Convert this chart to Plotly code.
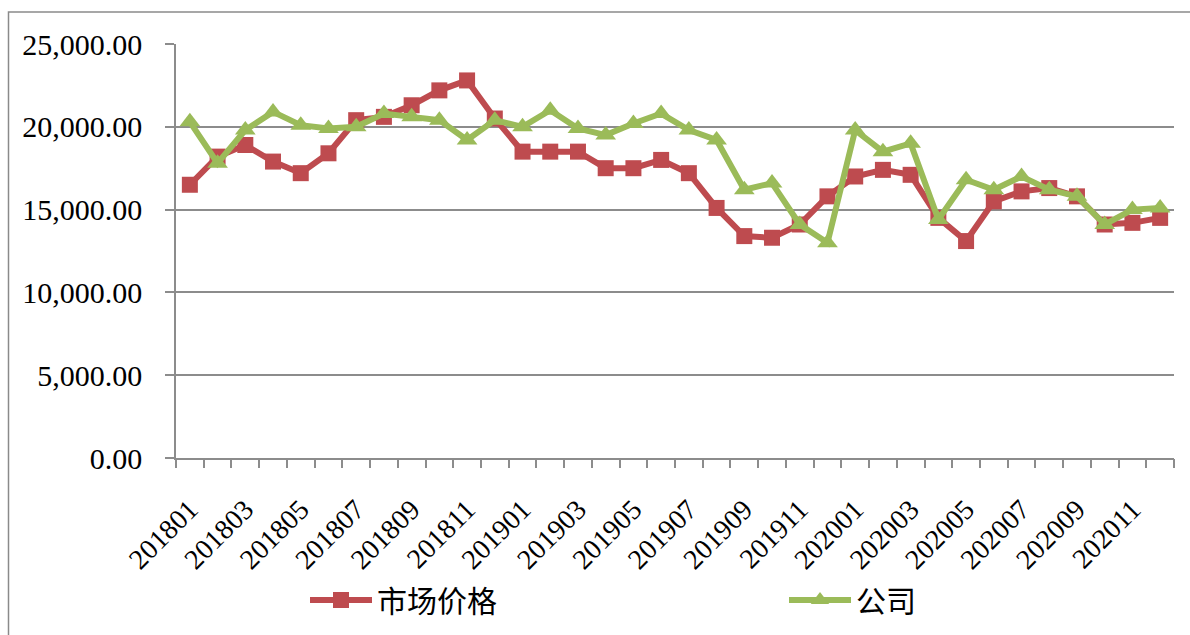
import plotly.graph_objects as go

# Monthly periods 2018-01 .. 2020-12
categories = [f"{y}{m:02d}" for y in (2018, 2019, 2020) for m in range(1, 13)]

market_price = [
    16500, 18200, 18900, 17900, 17200, 18400, 20400, 20600, 21300, 22200, 22800, 20500,
    18500, 18500, 18500, 17500, 17500, 18000, 17200, 15100, 13400, 13300, 14100, 15800,
    17000, 17400, 17100, 14500, 13100, 15500, 16100, 16300, 15800, 14100, 14200, 14500,
]
company_price = [
    20300, 17800, 19800, 20900, 20100, 19900, 20000, 20800, 20600, 20400, 19200, 20400,
    20000, 21000, 19900, 19500, 20200, 20800, 19800, 19200, 16200, 16600, 14100, 13000,
    19800, 18500, 19000, 14400, 16800, 16200, 17000, 16200, 15800, 14100, 15000, 15100,
]

series_names = ["市场价格", "公司"]
label_cats = categories[::2]

RED = "#BE4B4F"
GREEN = "#9BBB59"
GRID = "#8C8C8C"
SERIF = "Liberation Serif, Times New Roman, serif"
CJK = "Noto Sans CJK SC, sans-serif"

fig = go.Figure()
fig.add_trace(go.Scatter(
    x=categories, y=market_price, name=series_names[0], mode="lines+markers",
    line=dict(color=RED, width=6),
    marker=dict(symbol="square", size=16, color=RED),
))
fig.add_trace(go.Scatter(
    x=categories, y=company_price, name=series_names[1], mode="lines+markers",
    line=dict(color=GREEN, width=6),
    marker=dict(symbol="triangle-up", size=18, color=GREEN),
))
# carrier for the boundary tick-mark axis
fig.add_trace(go.Scatter(x=[0], y=[None], xaxis="x2", showlegend=False,
                         hoverinfo="skip", mode="markers"))

n = len(categories)
W, H = 1190, 635
L, R, T, B = 176, 16, 44, 177
pw, ph = W - L - R, H - T - B

fig.update_layout(
    width=W, height=H,
    margin=dict(l=L, r=R, t=T, b=B, autoexpand=False),
    paper_bgcolor="white", plot_bgcolor="white",
    xaxis=dict(
        type="category", range=[-0.5, n - 0.5],
        tickmode="array", tickvals=label_cats, ticktext=label_cats,
        tickangle=-45, ticks="", showgrid=False,
        showline=True, linecolor=GRID, linewidth=1.5,
        tickfont=dict(family=SERIF, size=28, color="black"),
        ticklabelstandoff=22, automargin=False,
    ),
    xaxis2=dict(
        overlaying="x", anchor="y", side="bottom", range=[-0.5, n - 0.5],
        tickmode="array", tickvals=[i - 0.5 for i in range(n + 1)],
        showticklabels=False, ticks="outside", ticklen=9, tickwidth=1.5,
        tickcolor=GRID, showgrid=False, showline=False, zeroline=False,
    ),
    yaxis=dict(
        range=[0, 25000], dtick=5000, tickformat=",.2f",
        showgrid=True, gridcolor=GRID, gridwidth=1.5,
        showline=True, linecolor=GRID, linewidth=1.5,
        ticks="outside", ticklen=9, tickwidth=1.5, tickcolor=GRID,
        zeroline=False,
        tickfont=dict(family=SERIF, size=30, color="black"),
        ticklabelstandoff=17, automargin=False,
    ),
    legend=dict(
        orientation="h", x=(305 - L) / pw, xanchor="left",
        y=(T + ph - 600) / ph, yanchor="middle",
        font=dict(family=CJK, size=30, color="black"),
        itemwidth=62,
        entrywidth=402, entrywidthmode="pixels",
        bgcolor="rgba(0,0,0,0)",
    ),
    showlegend=True,
    shapes=[dict(
        type="rect", xref="paper", yref="paper",
        x0=(8.5 - L) / pw, x1=(W + 10 - L) / pw,
        y0=(T + ph - (H + 10)) / ph, y1=(T + ph - 12) / ph,
        line=dict(color="#8A8A8A", width=1.5), fillcolor="rgba(0,0,0,0)",
        layer="below",
    )],
)

fig.write_html("out.html")
